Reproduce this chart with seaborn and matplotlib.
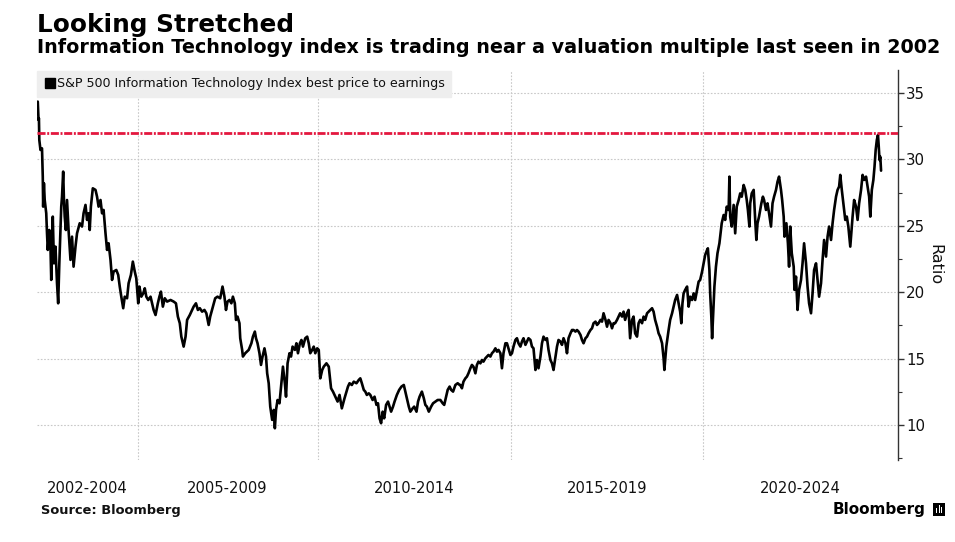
import numpy as np
import pandas as pd
import matplotlib
matplotlib.use("Agg")
import matplotlib.pyplot as plt
import seaborn as sns
from matplotlib.lines import Line2D
from matplotlib.patches import Rectangle

# ---- data (decimal year, P/E ratio) ----
yr_2002_2004 = [2002.71, 2002.73, 2002.74, 2002.75, 2002.78, 2002.82, 2002.84, 2002.85, 2002.87, 2002.89,
                2002.93, 2002.95, 2002.97, 2003.01, 2003.04, 2003.06, 2003.10, 2003.13, 2003.17, 2003.21,
                2003.24, 2003.27, 2003.32, 2003.34, 2003.37, 2003.39, 2003.41, 2003.44, 2003.47, 2003.51,
                2003.56, 2003.60, 2003.64, 2003.69, 2003.73, 2003.80, 2003.86, 2003.90, 2003.95, 2003.99,
                2004.03, 2004.06, 2004.09, 2004.14, 2004.21, 2004.25, 2004.29, 2004.34, 2004.38, 2004.42,
                2004.47, 2004.51, 2004.55, 2004.60, 2004.64, 2004.68, 2004.75, 2004.80, 2004.84, 2004.88,
                2004.93, 2004.97]
pe_2002_2004 = [34.35, 32.97, 33.09, 31.46, 30.71, 30.83, 28.70, 26.44, 28.20, 26.94,
                25.94, 24.43, 23.18, 24.68, 23.43, 20.92, 25.69, 22.17, 23.43, 20.67,
                19.16, 22.17, 26.44, 27.19, 29.08, 26.94, 25.69, 24.68, 26.94, 24.68,
                22.43, 24.18, 21.92, 23.43, 24.43, 25.19, 24.94, 25.94, 26.57, 25.44,
                25.94, 24.68, 26.44, 27.82, 27.70, 27.19, 26.44, 26.94, 25.94, 26.19,
                24.43, 23.18, 23.68, 22.43, 20.92, 21.55, 21.67, 21.30, 20.42, 19.66,
                18.79, 19.66]

yr_2005_2008 = [2005.03, 2005.07, 2005.13, 2005.18, 2005.23, 2005.27, 2005.32, 2005.35, 2005.40, 2005.45,
                2005.49, 2005.53, 2005.58, 2005.64, 2005.68, 2005.72, 2005.77, 2005.83, 2005.87, 2005.91,
                2005.96, 2006.01, 2006.07, 2006.16, 2006.24, 2006.30, 2006.35, 2006.40, 2006.44, 2006.50,
                2006.55, 2006.59, 2006.66, 2006.72, 2006.76, 2006.82, 2006.87, 2006.92, 2006.98, 2007.04,
                2007.09, 2007.15, 2007.19, 2007.26, 2007.32, 2007.38, 2007.45, 2007.51, 2007.56, 2007.60,
                2007.64, 2007.69, 2007.74, 2007.78, 2007.83, 2007.86, 2007.90, 2007.95, 2007.97, 2008.02,
                2008.04, 2008.10, 2008.19]
pe_2005_2008 = [19.54, 20.67, 21.30, 22.30, 21.55, 21.04, 19.16, 20.42, 19.66, 19.91,
                20.29, 19.66, 19.41, 19.66, 19.16, 18.66, 18.28, 19.16, 19.66, 20.04,
                18.91, 19.54, 19.29, 19.41, 19.29, 19.16, 18.16, 17.66, 16.65, 15.90,
                16.65, 17.91, 18.28, 18.66, 18.91, 19.16, 18.66, 18.79, 18.53, 18.66,
                18.41, 17.53, 18.16, 18.91, 19.54, 19.66, 19.54, 20.42, 19.66, 18.66,
                19.29, 19.41, 19.16, 19.66, 19.16, 17.91, 18.16, 17.66, 16.53, 15.65,
                15.15, 15.40, 15.65]

yr_2008_2013 = [2008.26, 2008.30, 2008.35, 2008.38, 2008.42, 2008.47, 2008.51, 2008.55, 2008.60, 2008.64,
                2008.67, 2008.71, 2008.75, 2008.80, 2008.84, 2008.87, 2008.90, 2008.94, 2008.99, 2009.03,
                2009.08, 2009.13, 2009.16, 2009.20, 2009.25, 2009.29, 2009.33, 2009.39, 2009.43, 2009.47,
                2009.52, 2009.56, 2009.60, 2009.66, 2009.71, 2009.75, 2009.79, 2009.84, 2009.88, 2009.92,
                2009.97, 2010.01, 2010.05, 2010.10, 2010.14, 2010.21, 2010.27, 2010.33, 2010.38, 2010.44,
                2010.50, 2010.55, 2010.61, 2010.68, 2010.73, 2010.77, 2010.81, 2010.87, 2010.92, 2010.99,
                2011.05, 2011.09, 2011.13, 2011.18, 2011.22, 2011.26, 2011.31, 2011.35, 2011.41, 2011.46,
                2011.51, 2011.55, 2011.59, 2011.63, 2011.67, 2011.71, 2011.76, 2011.81, 2011.85, 2011.89,
                2011.94, 2011.98, 2012.04, 2012.10, 2012.16, 2012.22, 2012.26, 2012.30, 2012.35, 2012.39,
                2012.45, 2012.49, 2012.55, 2012.59, 2012.63, 2012.69, 2012.74, 2012.78, 2012.82, 2012.87,
                2012.93, 2012.98, 2013.04, 2013.10, 2013.17, 2013.23, 2013.27, 2013.32, 2013.36, 2013.41,
                2013.45, 2013.50, 2013.56, 2013.62, 2013.67]
pe_2008_2013 = [16.15, 16.65, 17.03, 16.53, 16.15, 15.40, 14.52, 15.15, 15.77, 15.15,
                13.89, 13.14, 11.38, 10.38, 11.13, 9.75, 11.13, 11.88, 11.63, 12.89,
                14.39, 13.14, 12.13, 14.64, 15.40, 15.15, 15.90, 15.65, 16.15, 15.40,
                16.15, 16.40, 15.90, 16.53, 16.65, 16.15, 15.40, 15.65, 15.90, 15.40,
                15.77, 15.65, 13.51, 14.14, 14.39, 14.64, 14.39, 12.76, 12.51, 12.13,
                11.76, 12.26, 11.25, 12.01, 12.51, 12.89, 13.14, 13.01, 13.26, 13.14,
                13.39, 13.51, 13.14, 12.64, 12.51, 12.26, 12.38, 12.26, 11.88, 12.13,
                11.51, 11.63, 10.50, 10.13, 11.00, 10.50, 11.51, 11.76, 11.38, 11.00,
                11.38, 11.76, 12.26, 12.64, 12.89, 13.01, 12.51, 12.01, 11.38, 11.00,
                11.25, 11.38, 11.00, 11.76, 12.13, 12.51, 12.01, 11.51, 11.38, 11.00,
                11.38, 11.63, 11.76, 11.88, 11.88, 11.63, 11.51, 12.13, 12.64, 12.89,
                12.64, 12.51, 13.01, 13.14, 13.01]

yr_2013_2019 = [2013.69, 2013.73, 2013.77, 2013.82, 2013.86, 2013.90, 2013.95, 2013.99, 2014.03, 2014.08,
                2014.12, 2014.16, 2014.21, 2014.25, 2014.29, 2014.34, 2014.38, 2014.42, 2014.47, 2014.51,
                2014.55, 2014.60, 2014.64, 2014.68, 2014.73, 2014.77, 2014.81, 2014.86, 2014.90, 2014.94,
                2014.99, 2015.03, 2015.07, 2015.12, 2015.16, 2015.20, 2015.25, 2015.29, 2015.33, 2015.38,
                2015.42, 2015.46, 2015.51, 2015.55, 2015.59, 2015.64, 2015.68, 2015.72, 2015.77, 2015.81,
                2015.85, 2015.90, 2015.94, 2015.98, 2016.03, 2016.07, 2016.11, 2016.16, 2016.20, 2016.24,
                2016.29, 2016.33, 2016.37, 2016.42, 2016.46, 2016.50, 2016.55, 2016.59, 2016.63, 2016.68,
                2016.72, 2016.76, 2016.81, 2016.85, 2016.89, 2016.94, 2016.98, 2017.02, 2017.07, 2017.11,
                2017.15, 2017.20, 2017.24, 2017.28, 2017.33, 2017.37, 2017.41, 2017.46, 2017.50, 2017.54,
                2017.59, 2017.63, 2017.67, 2017.71, 2017.76, 2017.80, 2017.84, 2017.89, 2017.93, 2017.97,
                2018.02, 2018.06, 2018.10, 2018.15, 2018.19, 2018.23, 2018.28, 2018.32, 2018.36, 2018.41,
                2018.45, 2018.49, 2018.54, 2018.58, 2018.62, 2018.67, 2018.71, 2018.75, 2018.80, 2018.84,
                2018.88, 2018.93, 2018.97, 2018.99, 2019.04, 2019.10, 2019.14]
pe_2013_2019 = [13.01, 12.76, 13.26, 13.51, 13.64, 13.89, 14.27, 14.52, 14.39, 13.89,
                14.52, 14.77, 14.64, 14.89, 14.77, 15.02, 15.15, 15.27, 15.15, 15.40,
                15.52, 15.77, 15.52, 15.65, 15.40, 14.27, 15.40, 16.15, 16.15, 15.77,
                15.27, 15.40, 15.90, 16.40, 16.53, 16.15, 15.90, 16.28, 16.53, 16.03,
                16.28, 16.53, 16.40, 15.90, 15.77, 14.14, 14.89, 14.27, 15.15, 16.15,
                16.65, 16.40, 16.53, 15.65, 14.89, 14.64, 14.14, 15.15, 15.90, 16.40,
                16.28, 16.03, 16.53, 16.15, 15.40, 16.53, 16.90, 17.15, 17.15, 17.03,
                17.15, 17.03, 16.78, 16.40, 16.15, 16.53, 16.65, 16.90, 17.15, 17.28,
                17.66, 17.78, 17.53, 17.66, 17.91, 17.78, 18.41, 17.91, 17.40, 17.91,
                17.66, 17.28, 17.66, 17.66, 17.91, 18.16, 18.41, 18.16, 18.53, 17.91,
                18.41, 18.66, 16.53, 17.91, 18.16, 16.90, 16.65, 17.66, 17.91, 17.66,
                18.16, 17.91, 18.41, 18.53, 18.66, 18.79, 18.53, 17.91, 17.40, 16.90,
                16.65, 16.15, 15.02, 14.14, 15.90, 17.15, 17.91]

yr_2019_2024 = [2019.19, 2019.23, 2019.27, 2019.32, 2019.36, 2019.40, 2019.43, 2019.46, 2019.49, 2019.53,
                2019.58, 2019.62, 2019.66, 2019.71, 2019.75, 2019.79, 2019.84, 2019.88, 2019.92, 2019.97,
                2020.01, 2020.05, 2020.10, 2020.12, 2020.16, 2020.18, 2020.21, 2020.23, 2020.27, 2020.29,
                2020.33, 2020.37, 2020.42, 2020.46, 2020.48, 2020.53, 2020.57, 2020.61, 2020.66, 2020.68,
                2020.70, 2020.74, 2020.79, 2020.83, 2020.87, 2020.92, 2020.96, 2021.00, 2021.05, 2021.09,
                2021.13, 2021.16, 2021.20, 2021.22, 2021.26, 2021.31, 2021.35, 2021.38, 2021.41, 2021.45,
                2021.51, 2021.55, 2021.58, 2021.63, 2021.67, 2021.71, 2021.76, 2021.80, 2021.84, 2021.89,
                2021.93, 2021.97, 2022.02, 2022.05, 2022.09, 2022.11, 2022.16, 2022.20, 2022.23, 2022.26,
                2022.30, 2022.35, 2022.37, 2022.41, 2022.45, 2022.49, 2022.54, 2022.58, 2022.62, 2022.67,
                2022.71, 2022.75, 2022.80, 2022.84, 2022.88, 2022.93, 2022.97, 2023.01, 2023.06, 2023.10,
                2023.14, 2023.19, 2023.23, 2023.27, 2023.32, 2023.36, 2023.40, 2023.45, 2023.49, 2023.53,
                2023.56, 2023.60, 2023.65, 2023.69, 2023.73, 2023.77, 2023.82, 2023.84, 2023.88, 2023.92,
                2023.97, 2024.01, 2024.05, 2024.10, 2024.14, 2024.18, 2024.23, 2024.27, 2024.31, 2024.34,
                2024.38, 2024.42, 2024.45, 2024.48, 2024.51, 2024.54, 2024.56, 2024.58, 2024.60, 2024.62]
pe_2019_2024 = [18.41, 18.91, 19.41, 19.79, 19.16, 18.53, 17.66, 19.16, 19.91, 20.17,
                20.42, 18.91, 19.66, 19.41, 19.91, 19.41, 20.17, 20.79, 20.92, 21.55,
                22.17, 22.80, 23.18, 23.30, 21.67, 19.91, 18.16, 16.53, 19.16, 20.42,
                21.92, 22.93, 23.68, 24.68, 25.19, 25.81, 25.44, 26.44, 26.19, 28.70,
                25.69, 24.94, 26.57, 24.43, 26.44, 26.94, 27.44, 27.19, 28.07, 27.70,
                26.94, 26.19, 24.94, 26.69, 27.44, 27.70, 25.44, 23.93, 25.19, 25.69,
                26.69, 27.19, 26.94, 26.19, 26.69, 25.94, 24.94, 26.69, 27.19, 27.70,
                28.32, 28.70, 27.70, 26.94, 25.69, 24.18, 25.19, 23.68, 21.92, 24.94,
                22.93, 21.92, 20.17, 21.17, 18.66, 20.17, 20.92, 22.17, 23.68, 22.17,
                20.42, 19.16, 18.41, 19.91, 21.67, 22.17, 20.92, 19.66, 20.67, 22.43,
                23.93, 22.68, 24.18, 24.94, 23.93, 25.19, 26.19, 27.19, 27.70, 27.95,
                28.83, 27.70, 26.44, 25.44, 25.69, 24.94, 23.43, 24.18, 25.69, 26.94,
                26.44, 25.44, 26.69, 27.70, 28.83, 28.45, 28.70, 27.95, 27.19, 25.69,
                27.70, 28.45, 29.45, 30.71, 31.46, 31.84, 30.96, 29.95, 30.20, 29.15]

reference_level = 32.0
period_labels = ["2002-2004", "2005-2009", "2010-2014", "2015-2019", "2020-2024"]
period_label_pos = [2003.99, 2007.63, 2012.48, 2017.50, 2022.51]
period_bounds = [2005.31, 2010.0, 2015.0, 2020.0]
y_major = [10, 15, 20, 25, 30, 35]
y_minor = [7.5, 12.5, 17.5, 22.5, 27.5, 32.5]
series_name = "S&P 500 Information Technology Index best price to earnings"

df = pd.DataFrame({
    "year": np.concatenate([yr_2002_2004, yr_2005_2008, yr_2008_2013, yr_2013_2019, yr_2019_2024]),
    "pe": np.concatenate([pe_2002_2004, pe_2005_2008, pe_2008_2013, pe_2013_2019, pe_2019_2024]),
})

sns.set_style("white")
plt.rcParams['font.family'] = ['DejaVu Sans']
TXT = "#111111"

W, H = 955, 542
fig = plt.figure(figsize=(W / 100, H / 100), dpi=100)
ax = fig.add_axes([37 / W, 1 - 460 / H, (898 - 37) / W, (460 - 70) / H])

sns.lineplot(data=df, x="year", y="pe", ax=ax, color="black", lw=1.9,
             sort=False, estimator=None, zorder=3)
ax.axhline(reference_level, color="#e3173e", lw=2.0,
           linestyle=(0, (2.9, 0.6, 0.7, 0.6)), zorder=4)

ax.set_xlim(2002.69, 2025.06)
ax.set_ylim(7.36, 36.73)

ax.set_xticks(period_bounds)
ax.set_xticklabels([""] * len(period_bounds))
ax.set_xticks(period_label_pos, minor=True)
ax.set_xticklabels(period_labels, minor=True)
ax.tick_params(axis="x", which="both", length=0, pad=15, labelsize=10.6, labelcolor=TXT)

ax.yaxis.tick_right()
ax.set_yticks(y_major)
ax.set_yticks(y_minor, minor=True)
ax.tick_params(axis="y", which="major", length=4, width=1, color="#333333",
               pad=2, labelsize=10.8, labelcolor=TXT, right=True, left=False)
ax.tick_params(axis="y", which="minor", length=3, width=0.8, color="#333333",
               right=True, left=False)

ax.grid(axis="y", which="major", color="#c8c8c8", linestyle=(0, (1.5, 1.5)), lw=0.8)
ax.grid(axis="x", which="major", color="#c8c8c8", linestyle=(0, (1.5, 1.5)), lw=0.8)
ax.set_axisbelow(True)

for s in ["left", "top", "bottom"]:
    ax.spines[s].set_visible(False)
ax.spines["right"].set_color("#333333")
ax.spines["right"].set_linewidth(1.0)
ax.set_xlabel("")
ax.set_ylabel("")

handle = Line2D([], [], marker="s", color="black", linestyle="none", markersize=7)
leg = ax.legend([handle], [series_name], loc="upper left", bbox_to_anchor=(0, 0.997),
                frameon=True, facecolor="#eeeeee", edgecolor="#eeeeee", framealpha=1,
                fancybox=False, borderaxespad=0, handletextpad=0.1, handlelength=1.0,
                borderpad=0.5, fontsize=9.1)
for t in leg.get_texts():
    t.set_color(TXT)
leg.set_zorder(2)

fig.text(935 / W, 1 - 265 / H, "Ratio", rotation=270, ha="center", va="center",
         fontsize=11.5, color=TXT)

fig.text(37 / W, 1 - 32 / H, "Looking Stretched", fontsize=17.8, fontweight="bold",
         ha="left", va="baseline", color="black")
fig.text(37 / W, 1 - 53 / H,
         "Information Technology index is trading near a valuation multiple last seen in 2002",
         fontsize=13.75, fontweight="bold", ha="left", va="baseline", color="black")

fig.text(41 / W, 1 - 514 / H, "Source: Bloomberg", fontsize=9.4, fontweight="bold",
         ha="left", va="baseline", color=TXT)
fig.text(925 / W, 1 - 514 / H, "Bloomberg", fontsize=11, fontweight="bold",
         ha="right", va="baseline", color="black")

# small Bloomberg mark
fig.patches.append(Rectangle((933 / W, 1 - 516 / H), 12 / W, 13 / H,
                             transform=fig.transFigure, facecolor="black",
                             edgecolor="none"))
for i, hgt in enumerate([5, 8, 6]):
    fig.patches.append(Rectangle(((936 + i * 2.5) / W, 1 - 513 / H), 1.3 / W, hgt / H,
                                 transform=fig.transFigure, facecolor="white",
                                 edgecolor="none"))

fig.savefig("out.png", dpi=100, facecolor="white")
